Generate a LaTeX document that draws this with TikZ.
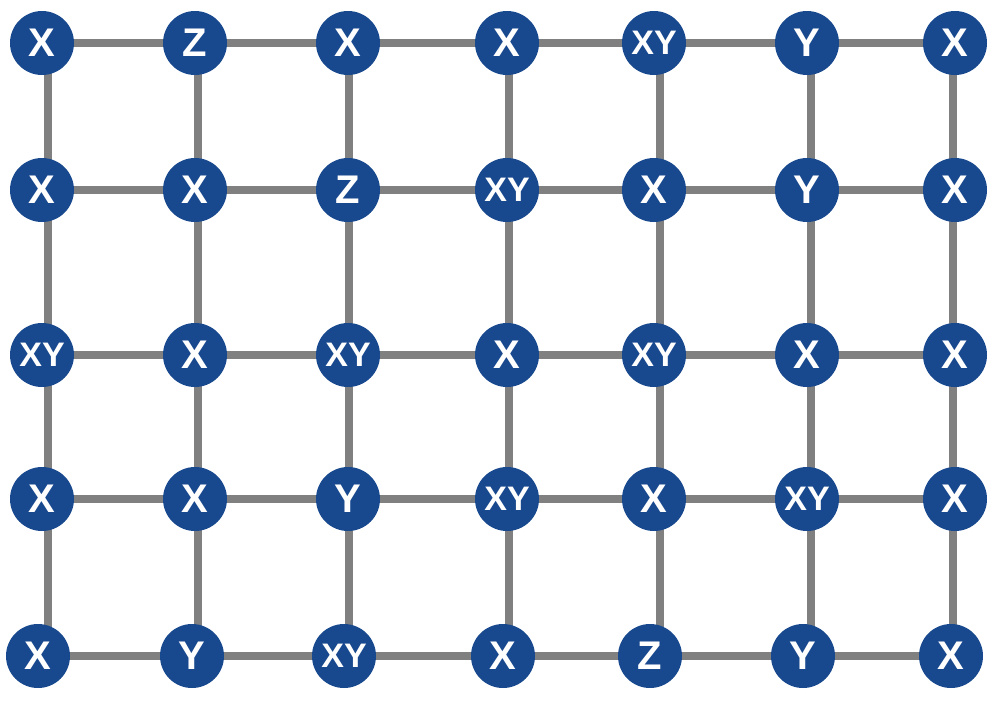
\documentclass[tikz,border=0pt]{standalone}
\usepackage{fontspec}
\setmainfont{Liberation Sans}
\usepackage{tikz}
\usetikzlibrary{backgrounds}
\definecolor{qblue}{RGB}{24,72,142}
\definecolor{qgray}{RGB}{128,128,128}

\begin{document}
\begin{tikzpicture}[x=1pt,y=-1pt,
    vertex/.style={circle,fill=qblue,minimum size=64pt,inner sep=0pt,text=white,
      font=\bfseries\fontsize{40}{40}\selectfont},
    pair/.style={vertex,font=\bfseries\fontsize{34}{34}\selectfont},
    edge/.style={qgray,line width=8pt}]
\useasboundingbox (0,0) rectangle (994,705);
% row 1
\node[vertex] (11) at (42,43) {X};
\node[vertex] (12) at (195,43) {Z};
\node[vertex] (13) at (348,43) {X};
\node[vertex] (14) at (507,43) {X};
\node[pair] (15) at (654,43) {XY};
\node[vertex] (16) at (807,43) {Y};
\node[vertex] (17) at (955,43) {X};
% row 2
\node[vertex] (21) at (42,190) {X};
\node[vertex] (22) at (195,190) {X};
\node[vertex] (23) at (348,190) {Z};
\node[pair] (24) at (507,190) {XY};
\node[vertex] (25) at (654,190) {X};
\node[vertex] (26) at (807,190) {Y};
\node[vertex] (27) at (955,190) {X};
% row 3
\node[pair] (31) at (42,355) {XY};
\node[vertex] (32) at (195,355) {X};
\node[pair] (33) at (348,355) {XY};
\node[vertex] (34) at (507,355) {X};
\node[pair] (35) at (654,355) {XY};
\node[vertex] (36) at (807,355) {X};
\node[vertex] (37) at (955,355) {X};
% row 4
\node[vertex] (41) at (42,499) {X};
\node[vertex] (42) at (195,499) {X};
\node[vertex] (43) at (348,499) {Y};
\node[pair] (44) at (507,499) {XY};
\node[vertex] (45) at (654,499) {X};
\node[pair] (46) at (807,499) {XY};
\node[vertex] (47) at (955,499) {X};
% row 5
\node[vertex] (51) at (38,656) {X};
\node[vertex] (52) at (192,656) {Y};
\node[pair] (53) at (344,656) {XY};
\node[vertex] (54) at (503,656) {X};
\node[vertex] (55) at (650,656) {Z};
\node[vertex] (56) at (803,656) {Y};
\node[vertex] (57) at (951,656) {X};
\begin{scope}[on background layer]
\draw[edge] (11.center) -- (17.center);
\draw[edge] (21.center) -- (27.center);
\draw[edge] (31.center) -- (37.center);
\draw[edge] (41.center) -- (47.center);
\draw[edge] (51.center) -- (57.center);
\draw[edge] ([xshift=5.5]11.center) -- ([xshift=9.5]51.center);
\draw[edge] ([xshift=3]12.center) -- ([xshift=6]52.center);
\draw[edge] ([xshift=1]13.center) -- ([xshift=5]53.center);
\draw[edge] ([xshift=2]14.center) -- ([xshift=6]54.center);
\draw[edge] ([xshift=6]15.center) -- ([xshift=10]55.center);
\draw[edge] ([xshift=3.5]16.center) -- ([xshift=7.5]56.center);
\draw[edge] ([xshift=-2]17.center) -- ([xshift=2]57.center);
\end{scope}
\end{tikzpicture}
\end{document}
